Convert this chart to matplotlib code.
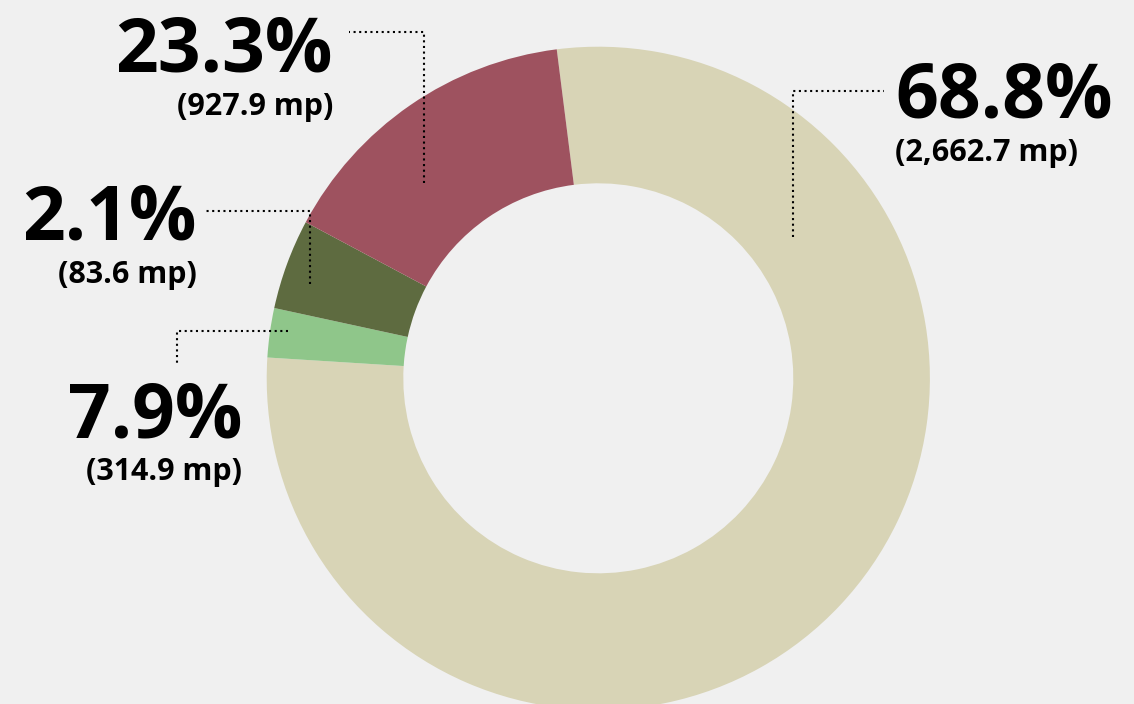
import matplotlib
matplotlib.use("Agg")
import matplotlib.pyplot as plt

# ---- data ----
pct_labels = ["68.8%", "7.9%", "2.1%", "23.3%"]
mp_values = [2662.7, 314.9, 83.6, 927.9]
# visible share of the ring occupied by each coloured arc (%)
arc_shares = [78.0, 2.4, 4.4, 15.2]
colors = ["#D8D4B6", "#8FC68A", "#5E6B40", "#9E525F"]

W, H = 1134, 704
BG = "#F0F0F0"

fig = plt.figure(figsize=(W / 100, H / 100), dpi=100, facecolor=BG)
ax = fig.add_axes([0, 0, 1, 1])
ax.set_facecolor(BG)

cx, cy = 598.3, H - 378.3
R = 331.6
ring = 1 - 195.0 / R

ax.pie(arc_shares, colors=colors, startangle=97.2, counterclock=False,
       center=(cx, cy), radius=R,
       wedgeprops=dict(width=R * ring, linewidth=0))

ax.set_xlim(0, W)
ax.set_ylim(0, H)
ax.set_aspect("equal")
ax.axis("off")

fam = ["Open Sans", "DejaVu Sans"]
big = 54
small = 22

# label layout: (x, big baseline, small baseline, ha) in screen pixels
layout = [
    (895, 118, 161, "left"),
    (242, 438, 480, "right"),
    (197, 240, 283, "right"),
    (333, 72, 115, "right"),
]
for lab, val, (x, yb, ys, ha) in zip(pct_labels, mp_values, layout):
    ax.text(x, H - yb, lab, ha=ha, va="baseline", fontsize=big,
            fontweight="bold", family=fam, color="black")
    ax.text(x, H - ys, f"({val:,.1f} mp)", ha=ha, va="baseline",
            fontsize=small, fontweight="bold", family=fam, color="black")

# leader lines (screen px)
leaders = [
    [(793, 237), (793, 91), (884, 91)],
    [(288, 331), (177, 331), (177, 364)],
    [(310, 284), (310, 211), (203, 211)],
    [(424, 183), (424, 32), (349, 32)],
]
for pts in leaders:
    xs = [p[0] for p in pts]
    ys = [H - p[1] for p in pts]
    ax.plot(xs, ys, color="black", lw=1.5, linestyle=(0, (1, 1.7)))

fig.savefig("out.png", dpi=100, facecolor=BG)
